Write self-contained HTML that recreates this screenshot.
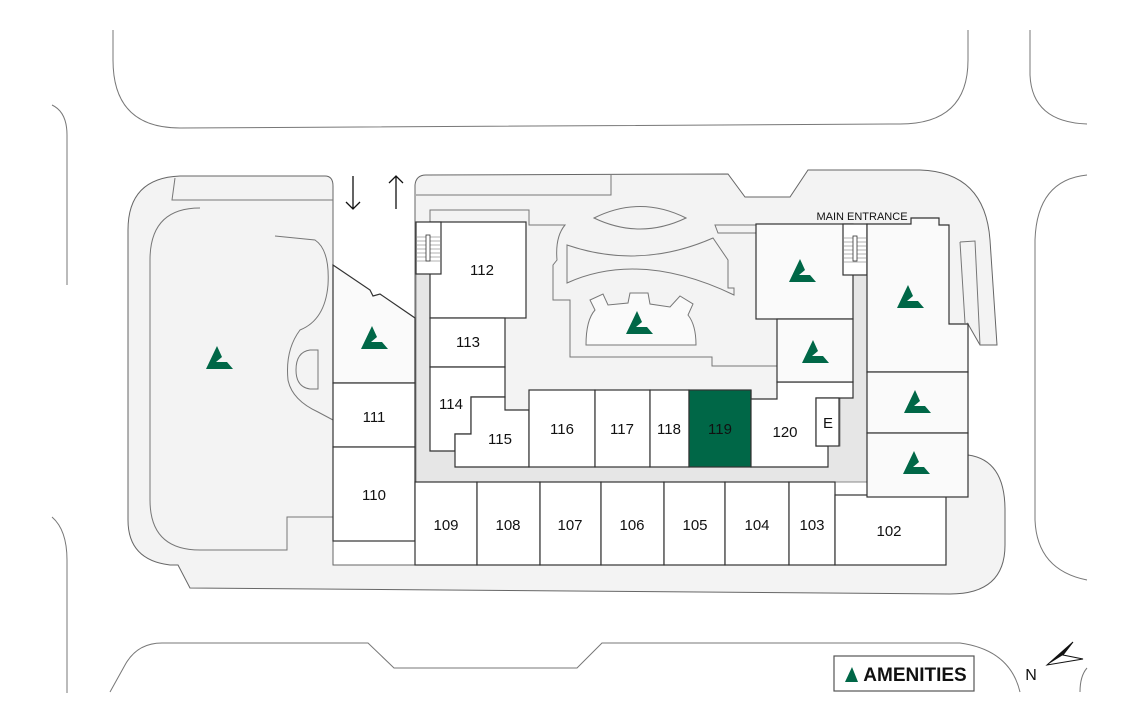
<!DOCTYPE html>
<html><head><meta charset="utf-8"><style>
body{margin:0;background:#fff}
svg{display:block;font-family:"Liberation Sans",sans-serif}
.u{fill:#fff;stroke:#333;stroke-width:1.2}
.a{fill:#fafafa;stroke:#333;stroke-width:1.2}
.g{fill:#f3f3f3;stroke:#666;stroke-width:1}
.o{fill:none;stroke:#777;stroke-width:1}
text{font-size:15px;fill:#111;text-anchor:middle}
</style></head><body>
<svg width="1131" height="721" viewBox="0 0 1131 721">
<defs><path id="ic" d="M-13,11 L-2,-12 L3,-1 L-3,4 L8,4 L14,11 Z" fill="#006747"/></defs>
<!-- roads -->
<path class="o" d="M113,30 L113,60 Q113,128 180,128 L900,124 Q968,124 968,60 L968,30"/>
<path class="o" d="M1030,30 L1030,75 Q1032,122 1087,124"/>
<path class="o" d="M52,105 Q67,112 67,135 L67,285"/>
<path class="o" d="M52,517 Q67,530 67,560 L67,693"/>
<path class="o" d="M1087,175 Q1037,180 1035,240 L1035,520 Q1037,570 1087,580"/>
<path class="o" d="M110,692 L125,665 Q137,643 162,643 L368,643 L394,668 L577,668 L602,643 L960,643 Q1010,650 1020,692"/>
<path class="o" d="M1087,668 Q1080,676 1080,692"/>
<!-- site -->
<path class="g" d="M180,176 L325,176 Q333,176 333,186 L333,565 L415,565 L946,565 L946,497 L968,497 L968,455 Q1005,460 1005,510 L1005,545 Q1005,594 950,594 L190,588 L178,565 L170,565 Q128,560 128,520 L128,230 Q128,178 180,176 Z"/>
<path class="o" d="M175,178 L172,200 L333,200"/>
<path class="o" d="M200,208 Q150,208 150,260 L150,500 Q150,550 200,550 L287,550 L287,517 L333,517"/>
<path class="o" d="M275,236 L315,240 Q330,250 328,285 Q325,320 300,330 Q285,350 288,380 Q292,400 318,412 L333,420"/>
<path class="o" d="M310,350 Q296,352 296,370 Q296,387 310,389 L318,389 L318,350 Z"/>
<path class="g" d="M415,185 Q416,175 426,175 L728,174 L745,197 L790,197 L808,170 L920,170 Q985,172 990,240 L997,345 L980,345 L968,324 L968,372 L867,372 L867,482 L415,482 Z"/>
<path class="o" d="M416,195 L611,195 L611,175"/>
<path class="o" d="M960,242 L975,241 L980,345 M960,242 L965,323"/>
<!-- corridor -->
<path d="M416,274 L430,274 L430,451 L455,451 L455,467 L828,467 L828,446 L840,446 L840,398 L853,398 L853,275 L867,275 L867,482 L416,482 Z" fill="#e6e6e6" stroke="#888" stroke-width="1"/>
<!-- courtyard -->
<path class="o" d="M430,222 L430,210 L529,210 L529,225 L565,225 Q555,237 557,260 L553,265 L553,300 L570,300 L570,357 L712,357 L712,366 L777,366 L777,319 L756,319 L756,233 L718,233 L715,225 L756,225"/>
<path class="o" d="M594,218 Q640,195 686,218 Q640,240 594,218 Z"/>
<path class="o" d="M567,283 L567,245 Q640,270 713,238 L728,260 L728,288 L734,288 L734,295 Q640,250 567,283 Z"/>
<path d="M586,345 Q586,320 595,310 L590,300 L603,294 L608,305 L628,303 L630,293 L648,293 L650,304 L670,307 L680,296 L693,304 L688,315 Q696,325 696,345 Z" fill="#fafafa" stroke="#777"/>
<!-- left amenity -->
<path class="a" d="M333,265 L370,290 L373,296 L380,294 L415,318 L415,383 L333,383 Z"/>
<!-- units -->
<rect class="u" x="333" y="383" width="82" height="64"/>
<rect class="u" x="333" y="447" width="82" height="94"/>
<rect class="u" x="415" y="482" width="62" height="83"/>
<rect class="u" x="477" y="482" width="63" height="83"/>
<rect class="u" x="540" y="482" width="61" height="83"/>
<rect class="u" x="601" y="482" width="63" height="83"/>
<rect class="u" x="664" y="482" width="61" height="83"/>
<rect class="u" x="725" y="482" width="64" height="83"/>
<rect class="u" x="789" y="482" width="46" height="83"/>
<rect class="u" x="835" y="495" width="111" height="70"/>
<rect class="u" x="430" y="222" width="96" height="96"/>
<rect class="u" x="416" y="222" width="25" height="52"/>
<g stroke="#666" stroke-width="0.6"><path d="M417,237h23M417,241h23M417,245h23M417,249h23M417,253h23M417,257h23M417,261h23"/></g>
<rect x="426" y="235" width="4" height="26" fill="#fff" stroke="#333" stroke-width="0.8"/>
<rect class="u" x="430" y="318" width="75" height="49"/>
<path class="u" d="M430,367 L505,367 L505,397 L471,397 L471,434 L455,434 L455,451 L430,451 Z"/>
<path class="u" d="M471,397 L505,397 L505,410 L529,410 L529,467 L455,467 L455,434 L471,434 Z"/>
<rect class="u" x="529" y="390" width="66" height="77"/>
<rect class="u" x="595" y="390" width="55" height="77"/>
<rect class="u" x="650" y="390" width="39" height="77"/>
<rect x="689" y="390" width="62" height="77" fill="#006747" stroke="#333" stroke-width="1.2"/>
<path class="u" d="M751,390 L751,399 L777,399 L777,382 L853,382 L853,398 L816,398 L816,446 L828,446 L828,467 L751,467 Z"/>
<rect class="u" x="816" y="398" width="23" height="48"/>
<rect class="a" x="756" y="224" width="97" height="95"/>
<rect class="a" x="777" y="319" width="76" height="63"/>
<rect class="u" x="843" y="224" width="24" height="51"/>
<g stroke="#666" stroke-width="0.6"><path d="M844,238h22M844,242h22M844,246h22M844,250h22M844,254h22M844,258h22M844,262h22"/></g>
<rect x="853" y="236" width="4" height="25" fill="#fff" stroke="#333" stroke-width="0.8"/>
<path class="a" d="M867,224 L911,224 L911,218 L939,218 L939,225 L949,225 L949,324 L968,324 L968,372 L867,372 Z"/>
<rect class="a" x="867" y="372" width="101" height="61"/>
<rect class="a" x="867" y="433" width="101" height="64"/>
<!-- labels -->
<text x="482" y="275">112</text><text x="468" y="347">113</text><text x="451" y="409">114</text>
<text x="500" y="444">115</text><text x="562" y="434">116</text><text x="622" y="434">117</text>
<text x="669" y="434">118</text><text x="720" y="434">119</text><text x="785" y="437">120</text>
<text x="828" y="428">E</text><text x="374" y="422">111</text><text x="374" y="500">110</text>
<text x="446" y="530">109</text><text x="508" y="530">108</text><text x="570" y="530">107</text>
<text x="632" y="530">106</text><text x="695" y="530">105</text><text x="757" y="530">104</text>
<text x="812" y="530">103</text><text x="889" y="536">102</text>
<text x="862" y="220" style="font-size:11px">MAIN ENTRANCE</text>
<!-- icons -->
<use href="#ic" x="219" y="358"/><use href="#ic" x="374" y="338"/><use href="#ic" x="639" y="323"/>
<use href="#ic" x="802" y="271"/><use href="#ic" x="910" y="297"/><use href="#ic" x="815" y="352"/>
<use href="#ic" x="917" y="402"/><use href="#ic" x="916" y="463"/>
<!-- arrows -->
<g stroke="#111" stroke-width="1.3" fill="none"><path d="M353,176 V209 M346,202 L353,209 L360,202"/><path d="M396,209 V176 M389,183 L396,176 L403,183"/></g>
<!-- legend -->
<rect x="834" y="656" width="140" height="35" fill="#fff" stroke="#555" stroke-width="1.2"/>
<path d="M845,682 L852,667 L858,682 Z" fill="#006747"/>
<text x="915" y="681" style="font-size:19px;font-weight:bold">AMENITIES</text>
<text x="1031" y="680" style="font-size:16px">N</text>
<path d="M1047,665 L1073,642 L1063,655 L1083,659 Z" fill="#fff" stroke="#111" stroke-width="1"/>
<path d="M1047,665 L1073,642 L1063,655 Z" fill="#111"/>
</svg>
</body></html>
